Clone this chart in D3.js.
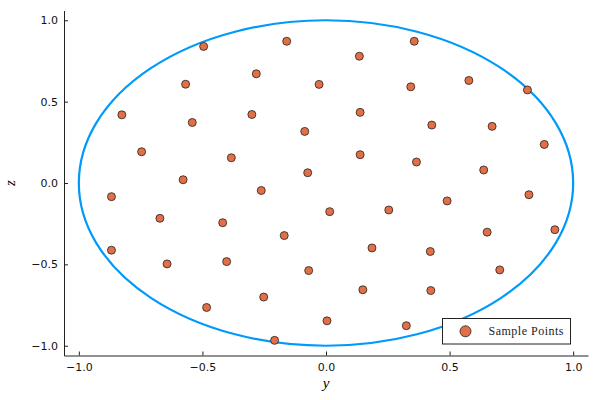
<!DOCTYPE html>
<html>
<head>
<meta charset="utf-8">
<script src="https://cdn.jsdelivr.net/npm/d3@7"></script>
<style>
body { margin: 0; background: #fff; }
svg { display: block; }
</style>
</head>
<body>
<svg id="chart" width="600" height="400"></svg>
<script>
// ---- data ----
const pointsY = [-0.495,-0.159,0.135,0.357,-0.568,-0.282,-0.028,0.343,0.578,0.815,
  -0.826,-0.541,-0.300,-0.086,0.138,0.428,0.672,-0.746,-0.383,0.138,
  0.366,0.883,-0.578,-0.074,0.638,-0.868,-0.262,0.490,0.821,-0.672,
  -0.418,0.015,0.254,-0.169,0.652,0.926,-0.868,0.186,0.422,-0.643,
  -0.402,-0.070,0.703,0.149,0.424,-0.252,-0.483,0.004,0.325,-0.208];
const pointsZ = [0.839,0.871,0.779,0.871,0.607,0.671,0.606,0.591,0.630,0.572,
  0.419,0.372,0.421,0.317,0.434,0.356,0.348,0.192,0.155,0.174,
  0.129,0.237,0.020,0.063,0.080,-0.084,-0.046,-0.110,-0.072,-0.217,
  -0.244,-0.176,-0.166,-0.323,-0.302,-0.287,-0.413,-0.399,-0.421,-0.497,
  -0.483,-0.538,-0.534,-0.656,-0.661,-0.701,-0.765,-0.847,-0.877,-0.967];
const ellipseCenter = [0, 0];
const ellipseRadii = [1, 1];
const xTicks = [-1.0, -0.5, 0.0, 0.5, 1.0];
const yTicks = [-1.0, -0.5, 0.0, 0.5, 1.0];
const xLabel = "y";
const yLabel = "z";
const legendLabel = "Sample Points";

// ---- drawing ----
const svg = d3.select("#chart");
const x = d3.scaleLinear().domain([-1.06, 1.06]).range([64, 588]);
const y = d3.scaleLinear().domain([-1.06, 1.06]).range([355.5, 10.5]);
const fmt = d3.format(".1f");

const xAxis = svg.append("g").attr("transform", "translate(0,355.5)")
  .call(d3.axisBottom(x).tickValues(xTicks).tickFormat(fmt).tickSizeInner(-4).tickSizeOuter(0).tickPadding(8));
const yAxis = svg.append("g").attr("transform", "translate(64,0)")
  .call(d3.axisLeft(y).tickValues(yTicks).tickFormat(fmt).tickSizeInner(-4).tickSizeOuter(0).tickPadding(6));
[xAxis, yAxis].forEach(g => {
  g.selectAll("text").attr("font-family", "DejaVu Sans, sans-serif").attr("font-size", 11).attr("fill", "#111");
  g.selectAll("line").attr("stroke", "#222");
  g.select(".domain").attr("stroke", "#222");
});

svg.append("ellipse")
  .attr("cx", x(ellipseCenter[0])).attr("cy", y(ellipseCenter[1]))
  .attr("rx", x(ellipseRadii[0]) - x(0)).attr("ry", y(0) - y(ellipseRadii[1]))
  .attr("fill", "none").attr("stroke", "#009AFA").attr("stroke-width", 2.2);

svg.append("g").selectAll("circle")
  .data(pointsY.map((v, i) => [v, pointsZ[i]]))
  .join("circle")
  .attr("cx", d => x(d[0])).attr("cy", d => y(d[1])).attr("r", 4)
  .attr("fill", "#E26F46").attr("stroke", "#222").attr("stroke-width", 0.8);

svg.append("text").attr("x", x(0)).attr("y", 388).attr("text-anchor", "middle")
  .attr("font-family", "Liberation Serif, serif").attr("font-style", "italic").attr("font-size", 15).text(xLabel);
svg.append("text").attr("transform", `translate(15,${y(0)}) rotate(-90)`).attr("text-anchor", "middle")
  .attr("font-family", "Liberation Serif, serif").attr("font-style", "italic").attr("font-size", 15).text(yLabel);

// legend
const lg = svg.append("g");
lg.append("rect").attr("x", 442.5).attr("y", 318.5).attr("width", 128).attr("height", 25.5)
  .attr("fill", "#fff").attr("stroke", "#222").attr("stroke-width", 1);
lg.append("circle").attr("cx", 465.5).attr("cy", 331.3).attr("r", 5.5)
  .attr("fill", "#E26F46").attr("stroke", "#222").attr("stroke-width", 0.8);
lg.append("text").attr("x", 488.5).attr("y", 335).attr("font-family", "Liberation Serif, serif")
  .attr("font-size", 12).attr("letter-spacing", 0.5).attr("fill", "#222").text(legendLabel);
</script>
</body>
</html>
